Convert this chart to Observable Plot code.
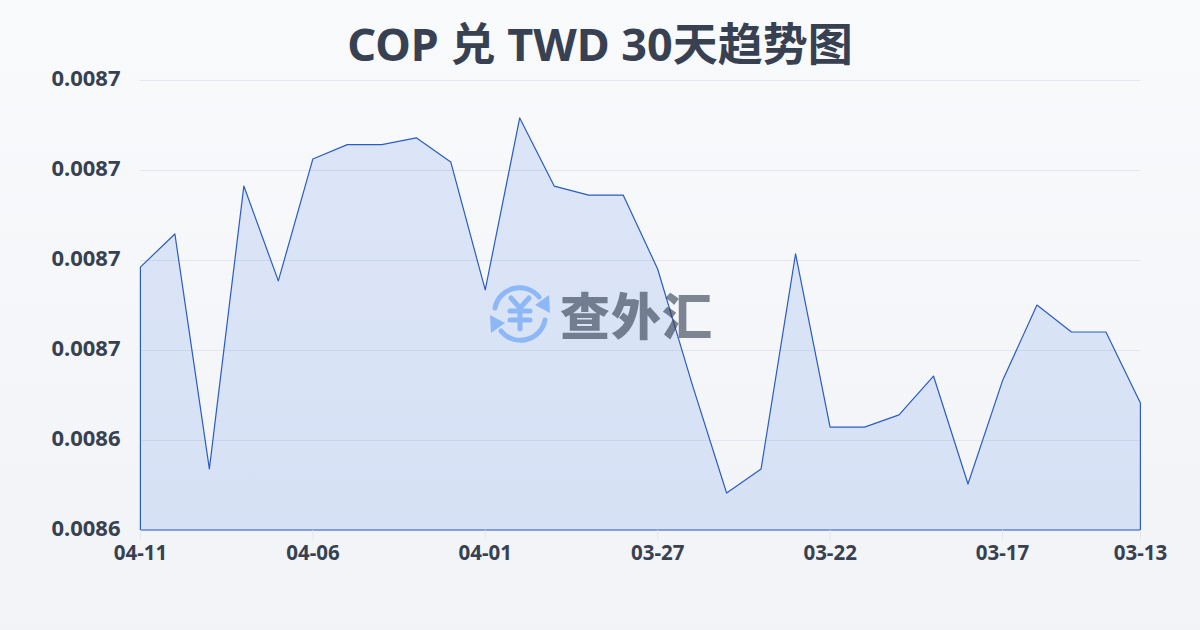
<!DOCTYPE html>
<html lang="zh">
<head>
<meta charset="utf-8">
<script src="https://cdn.jsdelivr.net/npm/d3@7"></script>
<script src="https://cdn.jsdelivr.net/npm/@observablehq/plot@0.6"></script>
<style>
html,body{margin:0;padding:0;width:1200px;height:630px;overflow:hidden}
body{background:linear-gradient(180deg,#f8fafc 0%,#f1f3f6 100%);position:relative;font-family:"Noto Sans","Noto Sans CJK SC",sans-serif}
#title{position:absolute;left:0;top:14px;width:1200px;text-align:center;font-size:45px;line-height:60px;font-weight:700;color:#374151}
#chart{position:absolute;left:0;top:0}
#chart svg{background:transparent;display:block}
#wm{position:absolute;left:489px;top:283px;width:230px;height:62px;display:flex;align-items:center;opacity:.6}
#wm svg{flex:none}
#wm span{font-size:50px;font-weight:900;letter-spacing:1px;color:#2f3a4f;font-family:"Noto Sans CJK SC",sans-serif;margin-left:9px;margin-top:-2px;line-height:62px}
</style>
</head>
<body>
<div id="title">COP 兑 TWD 30天趋势图</div>
<div id="chart"></div>
<div id="wm">
<svg width="62" height="62" viewBox="0 0 62 62" fill="none" stroke="#5b9bf5">
<path d="M6 25A25 25 0 0 1 50 14" stroke-width="5" stroke-linecap="round"/>
<path d="M56 37A25 25 0 0 1 12 48" stroke-width="5" stroke-linecap="round"/>
<path d="M60 12L61 30L46 22Z" fill="#5b9bf5" stroke="none"/>
<path d="M2 50L1 32L16 40Z" fill="#5b9bf5" stroke="none"/>
<path d="M22 15L31 25L40 15M21 28H41M21 37H41M31 25V46" stroke-width="5" stroke-linecap="round" stroke-linejoin="round"/>
</svg>
<span>查外汇</span>
</div>
<script>
const dates = ["04-11","04-10","04-09","04-08","04-07","04-06","04-05","04-04","04-03","04-02","04-01","03-31","03-30","03-29","03-28","03-27","03-26","03-25","03-24","03-23","03-22","03-21","03-20","03-19","03-18","03-17","03-16","03-15","03-14","03-13"];
const rates = [0.0086818,0.0086921,0.0086190,0.0087070,0.0086775,0.0087154,0.0087199,0.0087199,0.0087220,0.0087145,0.0086747,0.0087282,0.0087070,0.0087042,0.0087042,0.0086812,0.0086454,0.0086115,0.0086190,0.0086859,0.0086320,0.0086320,0.0086358,0.0086479,0.0086143,0.0086464,0.0086700,0.0086616,0.0086616,0.0086395];
const xTicks = ["04-11","04-06","04-01","03-27","03-22","03-17","03-13"];
const yTicks = [0.0086,0.008628,0.008656,0.008684,0.008712,0.00874];
const table = dates.map((d,i)=>({date:d,rate:rates[i]}));
const chart = Plot.plot({
  width:1200,height:630,
  marginTop:80,marginBottom:100,marginLeft:140,marginRight:60,
  style:{background:"transparent",fontFamily:'"Noto Sans","Noto Sans CJK SC",sans-serif'},
  x:{type:"point",domain:dates,padding:0,round:false},
  y:{domain:[0.0086,0.00874]},
  marks:[
    Plot.gridY(yTicks,{stroke:"#e2e6ee",strokeOpacity:1,strokeWidth:1}),
    Plot.areaY(table,{x:"date",y:"rate",y1:0.0086,y2:"rate",fill:"#2563eb",fillOpacity:0.13,stroke:"#2a5cc4",strokeWidth:1.2,curve:"linear",dx:0.4}),
    Plot.axisY({ticks:yTicks,tickFormat:d3.format(".4f"),tickSize:0,tickPadding:20,fontSize:22,fontWeight:700,fill:"#374151",label:null,dy:-2}),
    Plot.axisX({ticks:xTicks,tickSize:10,tickPadding:5,stroke:"#e2e6ee",fontSize:20.5,fontWeight:700,fill:"#374151",label:null})
  ]
});
document.getElementById("chart").appendChild(chart);
</script>
</body>
</html>
